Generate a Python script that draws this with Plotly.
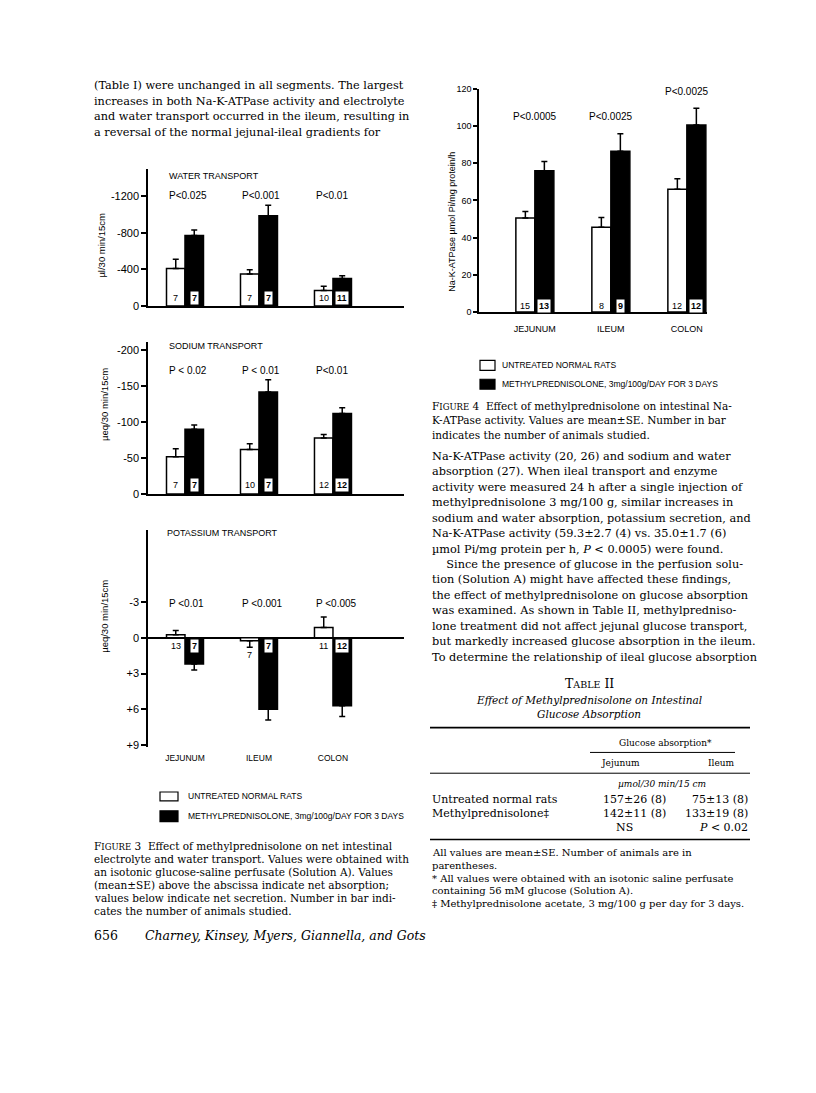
import plotly.graph_objects as go

# the page body has an 8px margin, so the figure is drawn 8px in from the top-left
OFF = 8
W, H = 816 - OFF, 1093 - OFF


def px(x):
    return (x - OFF) / W


def py(y):
    return 1 - (y - OFF) / H


segments = ["JEJUNUM", "ILEUM", "COLON"]

# Figure 3 - water transport (ul/30 min/15 cm, negative = absorption)
water_untreated = [-410, -350, -170]
water_untreated_se = [100, 45, 45]
water_treated = [-770, -985, -300]
water_treated_se = [60, 115, 30]
water_n_untreated = [7, 7, 10]
water_n_treated = [7, 7, 11]
water_p = ["P<0.025", "P<0.001", "P<0.01"]

# Figure 3 - sodium transport (ueq/30 min/15 cm)
sodium_untreated = [-52, -62, -78]
sodium_untreated_se = [11, 8, 5]
sodium_treated = [-90, -142, -112]
sodium_treated_se = [6, 17, 8]
sodium_n_untreated = [7, 10, 12]
sodium_n_treated = [7, 7, 12]
sodium_p = ["P < 0.02", "P < 0.01", "P<0.01"]

# Figure 3 - potassium transport (ueq/30 min/15 cm, positive = secretion)
potassium_untreated = [-0.25, 0.25, -0.85]
potassium_untreated_se = [0.35, 0.55, 0.9]
potassium_treated = [2.2, 6.0, 5.7]
potassium_treated_se = [0.5, 0.9, 0.9]
potassium_n_untreated = [13, 7, 11]
potassium_n_treated = [7, 7, 12]
potassium_p = ["P <0.01", "P <0.001", "P <0.005"]

# Figure 4 - Na-K-ATPase (umol Pi/mg protein/h)
atpase_untreated = [50.6, 45.6, 66]
atpase_untreated_se = [3.5, 5.2, 5.7]
atpase_treated = [76, 86.4, 100.6]
atpase_treated_se = [5, 9.5, 9]
atpase_n_untreated = [15, 8, 12]
atpase_n_treated = [13, 9, 12]
atpase_p = ["P<0.0005", "P<0.0025", "P<0.0025"]

legend_labels = ["UNTREATED NORMAL RATS", "METHYLPREDNISOLONE, 3mg/100g/DAY FOR 3 DAYS"]

top_left_text = [
    "(Table I) were unchanged in all segments. The largest",
    "increases in both Na-K-ATPase activity and electrolyte",
    "and water transport occurred in the ileum, resulting in",
    "a reversal of the normal jejunal-ileal gradients for",
]

fig3_caption = [
    "F<span style='font-size:8.5px'>IGURE</span> 3  Effect of methylprednisolone on net intestinal",
    "electrolyte and water transport. Values were obtained with",
    "an isotonic glucose-saline perfusate (Solution A). Values",
    "(mean±SE) above the abscissa indicate net absorption;",
    "values below indicate net secretion. Number in bar indi-",
    "cates the number of animals studied.",
]

fig4_caption = [
    "F<span style='font-size:8.5px'>IGURE</span> 4  Effect of methylprednisolone on intestinal Na-",
    "K-ATPase activity. Values are mean±SE. Number in bar",
    "indicates the number of animals studied.",
]

body_text = [
    "Na-K-ATPase activity (20, 26) and sodium and water",
    "absorption (27). When ileal transport and enzyme",
    "activity were measured 24 h after a single injection of",
    "methylprednisolone 3 mg/100 g, similar increases in",
    "sodium and water absorption, potassium secretion, and",
    "Na-K-ATPase activity (59.3±2.7 (4) vs. 35.0±1.7 (6)",
    "µmol Pi/mg protein per h, <i>P</i> < 0.0005) were found.",
    "    Since the presence of glucose in the perfusion solu-",
    "tion (Solution A) might have affected these findings,",
    "the effect of methylprednisolone on glucose absorption",
    "was examined. As shown in Table II, methylpredniso-",
    "lone treatment did not affect jejunal glucose transport,",
    "but markedly increased glucose absorption in the ileum.",
    "To determine the relationship of ileal glucose absorption",
]

table_rows = ["Untreated normal rats", "Methylprednisolone‡"]
table_jejunum = ["157±26 (8)", "142±11 (8)"]
table_ileum = ["75±13 (8)", "133±19 (8)"]
table_sig = ["NS", "<i>P</i> < 0.02"]

table_notes = [
    "All values are mean±SE. Number of animals are in",
    "parentheses.",
    "* All values were obtained with an isotonic saline perfusate",
    "containing 56 mM glucose (Solution A).",
    "‡ Methylprednisolone acetate, 3 mg/100 g per day for 3 days.",
]

SANS = "Liberation Sans"
SERIF = "DejaVu Serif"


def err(vals, se):
    up = [s if v > 0 else 0 for v, s in zip(vals, se)]
    down = [s if v < 0 else 0 for v, s in zip(vals, se)]
    return dict(type="data", symmetric=False, array=up, arrayminus=down,
                color="black", thickness=1.5, width=3)


fig = go.Figure()

panels = [
    (1, water_untreated, water_untreated_se, water_treated, water_treated_se),
    (2, sodium_untreated, sodium_untreated_se, sodium_treated, sodium_treated_se),
    (3, potassium_untreated, potassium_untreated_se, potassium_treated, potassium_treated_se),
    (4, atpase_untreated, atpase_untreated_se, atpase_treated, atpase_treated_se),
]
for n, u, use, t, tse in panels:
    xa = "x" if n == 1 else "x%d" % n
    ya = "y" if n == 1 else "y%d" % n
    fig.add_bar(x=segments, y=u, xaxis=xa, yaxis=ya, error_y=err(u, use),
                marker=dict(color="white", line=dict(color="black", width=1.5)),
                showlegend=False, hoverinfo="skip")
    fig.add_bar(x=segments, y=t, xaxis=xa, yaxis=ya, error_y=err(t, tse),
                marker=dict(color="black", line=dict(color="black", width=1.5)),
                showlegend=False, hoverinfo="skip")

ann = []


def text(x, y, s, size, family=SANS, anchor="left", color="black", **kw):
    ann.append(dict(x=px(x), y=py(y), xref="paper", yref="paper", text=s,
                    showarrow=False, xanchor=anchor, yanchor="middle",
                    font=dict(family=family, size=size, color=color), **kw))


def bar_numbers(n, n_white, n_black, shift_white, shift_black, size=9):
    xa = "x" if n == 1 else "x%d" % n
    ya = "y" if n == 1 else "y%d" % n
    for i in range(3):
        ann.append(dict(x=i - 0.125, y=0, xref=xa, yref=ya, yshift=shift_white[i],
                        text=str(n_white[i]), showarrow=False,
                        font=dict(family=SANS, size=size, color="black")))
        ann.append(dict(x=i + 0.125, y=0, xref=xa, yref=ya, yshift=shift_black[i],
                        text="<b>%d</b>" % n_black[i], showarrow=False, bgcolor="white",
                        borderpad=1, font=dict(family=SANS, size=size, color="black")))


def p_labels(n, labels, y):
    xa = "x" if n == 1 else "x%d" % n
    for i, lab in enumerate(labels):
        ann.append(dict(x=i - 0.25, y=py(y), xref=xa, yref="paper", text=lab,
                        showarrow=False, xanchor="left", yanchor="middle",
                        font=dict(family=SANS, size=10, color="black")))


# Figure 3 panel labels
text(167, 173, "WATER TRANSPORT", 9)
text(167, 344, "SODIUM TRANSPORT", 9)
text(165, 533, "POTASSIUM TRANSPORT", 9)
p_labels(1, water_p, 192)
p_labels(2, sodium_p, 369)
p_labels(3, potassium_p, 605)
bar_numbers(1, water_n_untreated, water_n_treated, [8, 8, 8], [8, 8, 8])
bar_numbers(2, sodium_n_untreated, sodium_n_treated, [9, 9, 9], [9, 9, 9])
bar_numbers(3, potassium_n_untreated, potassium_n_treated, [-8, -17, -8], [-8, -8, -8])
bar_numbers(4, atpase_n_untreated, atpase_n_treated, [6, 6, 6], [6, 6, 6])

text(102, 243, "µl/30 min/15cm", 9.5, anchor="center", textangle=-90)
text(105, 404, "µeq/30 min/15cm", 9.5, anchor="center", textangle=-90)
text(105, 618, "µeq/30 min/15cm", 9.5, anchor="center", textangle=-90)
text(452, 219, "Na-K-ATPase µmol Pi/mg protein/h", 9, anchor="center", textangle=-90)

# Figure 4 P values centred over each pair
for i, lab in enumerate(atpase_p):
    ann.append(dict(x=i, y=py([113, 113, 87][i]), xref="x4", yref="paper", text=lab,
                    showarrow=False, yanchor="middle",
                    font=dict(family=SANS, size=10, color="black")))

shapes = []


def box(x0, y0, x1, y1, fill):
    shapes.append(dict(type="rect", xref="paper", yref="paper", x0=px(x0), x1=px(x1),
                       y0=py(y1), y1=py(y0), fillcolor=fill,
                       line=dict(color="black", width=1.2)))


def rule(x0, x1, y, w=1):
    shapes.append(dict(type="line", xref="paper", yref="paper", x0=px(x0), x1=px(x1),
                       y0=py(y), y1=py(y), line=dict(color="black", width=w)))


# legends
box(160, 795, 178, 804, "white")
box(160, 814, 178, 825, "black")
text(186, 799.5, legend_labels[0], 8.5)
text(186, 819.5, legend_labels[1], 8.5)
box(480, 359, 495, 369, "white")
box(480, 378, 495, 388, "black")
text(500, 364, legend_labels[0], 8.5)
text(500, 383, legend_labels[1], 8.5)

# running text
for i, line in enumerate(top_left_text):
    text(92, 81.5 + i * 15.7, line, 11.3, family=SERIF)
for i, line in enumerate(fig3_caption):
    text(92, 850 + i * 13, line, 10.5, family=SERIF)
text(92, 940, "656", 12.5, family=SERIF)
text(143, 940, "<i>Charney, Kinsey, Myers, Giannella, and Gots</i>", 12.5, family=SERIF)
for i, line in enumerate(fig4_caption):
    text(430, 405 + i * 14.5, line, 10.5, family=SERIF)
for i, line in enumerate(body_text):
    text(430, 456 + i * 15.6, line, 11.3, family=SERIF)

# Table II
text(589, 685, "T<span style='font-size:9.5px'>ABLE</span> II", 12.5, family=SERIF, anchor="center")
text(589, 702, "<i>Effect of Methylprednisolone on Intestinal</i>", 10.5, family=SERIF, anchor="center")
text(589, 716, "<i>Glucose Absorption</i>", 10.5, family=SERIF, anchor="center")
rule(430, 750, 730, 1.8)
text(665, 745, "Glucose absorption*", 9, family=SERIF, anchor="center")
rule(590, 735, 755, 1)
text(620, 766, "Jejunum", 9, family=SERIF, anchor="center")
text(721, 766, "Ileum", 9, family=SERIF, anchor="center")
rule(430, 750, 776, 1)
text(662, 787, "<i>µmol/30 min/15 cm</i>", 9, family=SERIF, anchor="center")
for i in range(2):
    yy = 803 + i * 14
    text(430, yy, table_rows[i], 11, family=SERIF)
    text(601, yy, table_jejunum[i], 11, family=SERIF)
    text(750, yy, table_ileum[i], 11, family=SERIF, anchor="right")
text(624, 831, table_sig[0], 11, family=SERIF, anchor="center")
text(750, 831, table_sig[1], 11, family=SERIF, anchor="right")
rule(430, 750, 843, 1.5)
for i, line in enumerate(table_notes):
    text(430, 856.5 + i * 12.7, line, 10, family=SERIF)

axis = dict(showline=True, linecolor="black", linewidth=1.5, showgrid=False,
            zeroline=False, ticks="outside", ticklen=5, tickwidth=1.5, tickcolor="black",
            tickfont=dict(family=SANS, size=11, color="black"))
xbase = dict(axis, ticks="", showticklabels=False, type="category",
             domain=[px(148), px(404)], range=[-0.5, 2.96])

layout_axes = dict(
    xaxis=dict(xbase, anchor="y"),
    yaxis=dict(axis, anchor="x", domain=[py(304), py(166)], range=[0, -1492],
               tickvals=[0, -400, -800, -1200], ticktext=["0", "-400", "-800", "-1200"]),
    xaxis2=dict(xbase, anchor="y2"),
    yaxis2=dict(axis, anchor="x2", domain=[py(494), py(340)], range=[0, -212],
                tickvals=[0, -50, -100, -150, -200], ticktext=["0", "-50", "-100", "-150", "-200"]),
    xaxis3=dict(xbase, anchor="y3", showline=False, showticklabels=True,
                tickfont=dict(family=SANS, size=8.5, color="black"), ticklabelstandoff=4),
    yaxis3=dict(axis, anchor="x3", domain=[py(750), py(530)], range=[9.2, -9.06],
                zeroline=True, zerolinecolor="black", zerolinewidth=1.5,
                tickvals=[-3, 0, 3, 6, 9], ticktext=["-3", "0", "+3", "+6", "+9"]),
    xaxis4=dict(axis, ticks="", type="category", anchor="y4",
                domain=[px(479), px(707)], range=[-0.735, 2.265],
                tickfont=dict(family=SANS, size=9, color="black"), ticklabelstandoff=8),
    yaxis4=dict(axis, anchor="x4", domain=[py(310), py(84.7)], range=[0, 120],
                tickvals=[0, 20, 40, 60, 80, 100, 120], ticklen=4,
                tickfont=dict(family=SANS, size=9, color="black")),
)

fig.update_layout(
    width=W, height=H, margin=dict(l=0, r=0, t=0, b=0),
    paper_bgcolor="white", plot_bgcolor="white",
    barmode="group", bargap=0.5, bargroupgap=0,
    annotations=ann, shapes=shapes, showlegend=False,
    **layout_axes
)

fig.write_html("out.html")
